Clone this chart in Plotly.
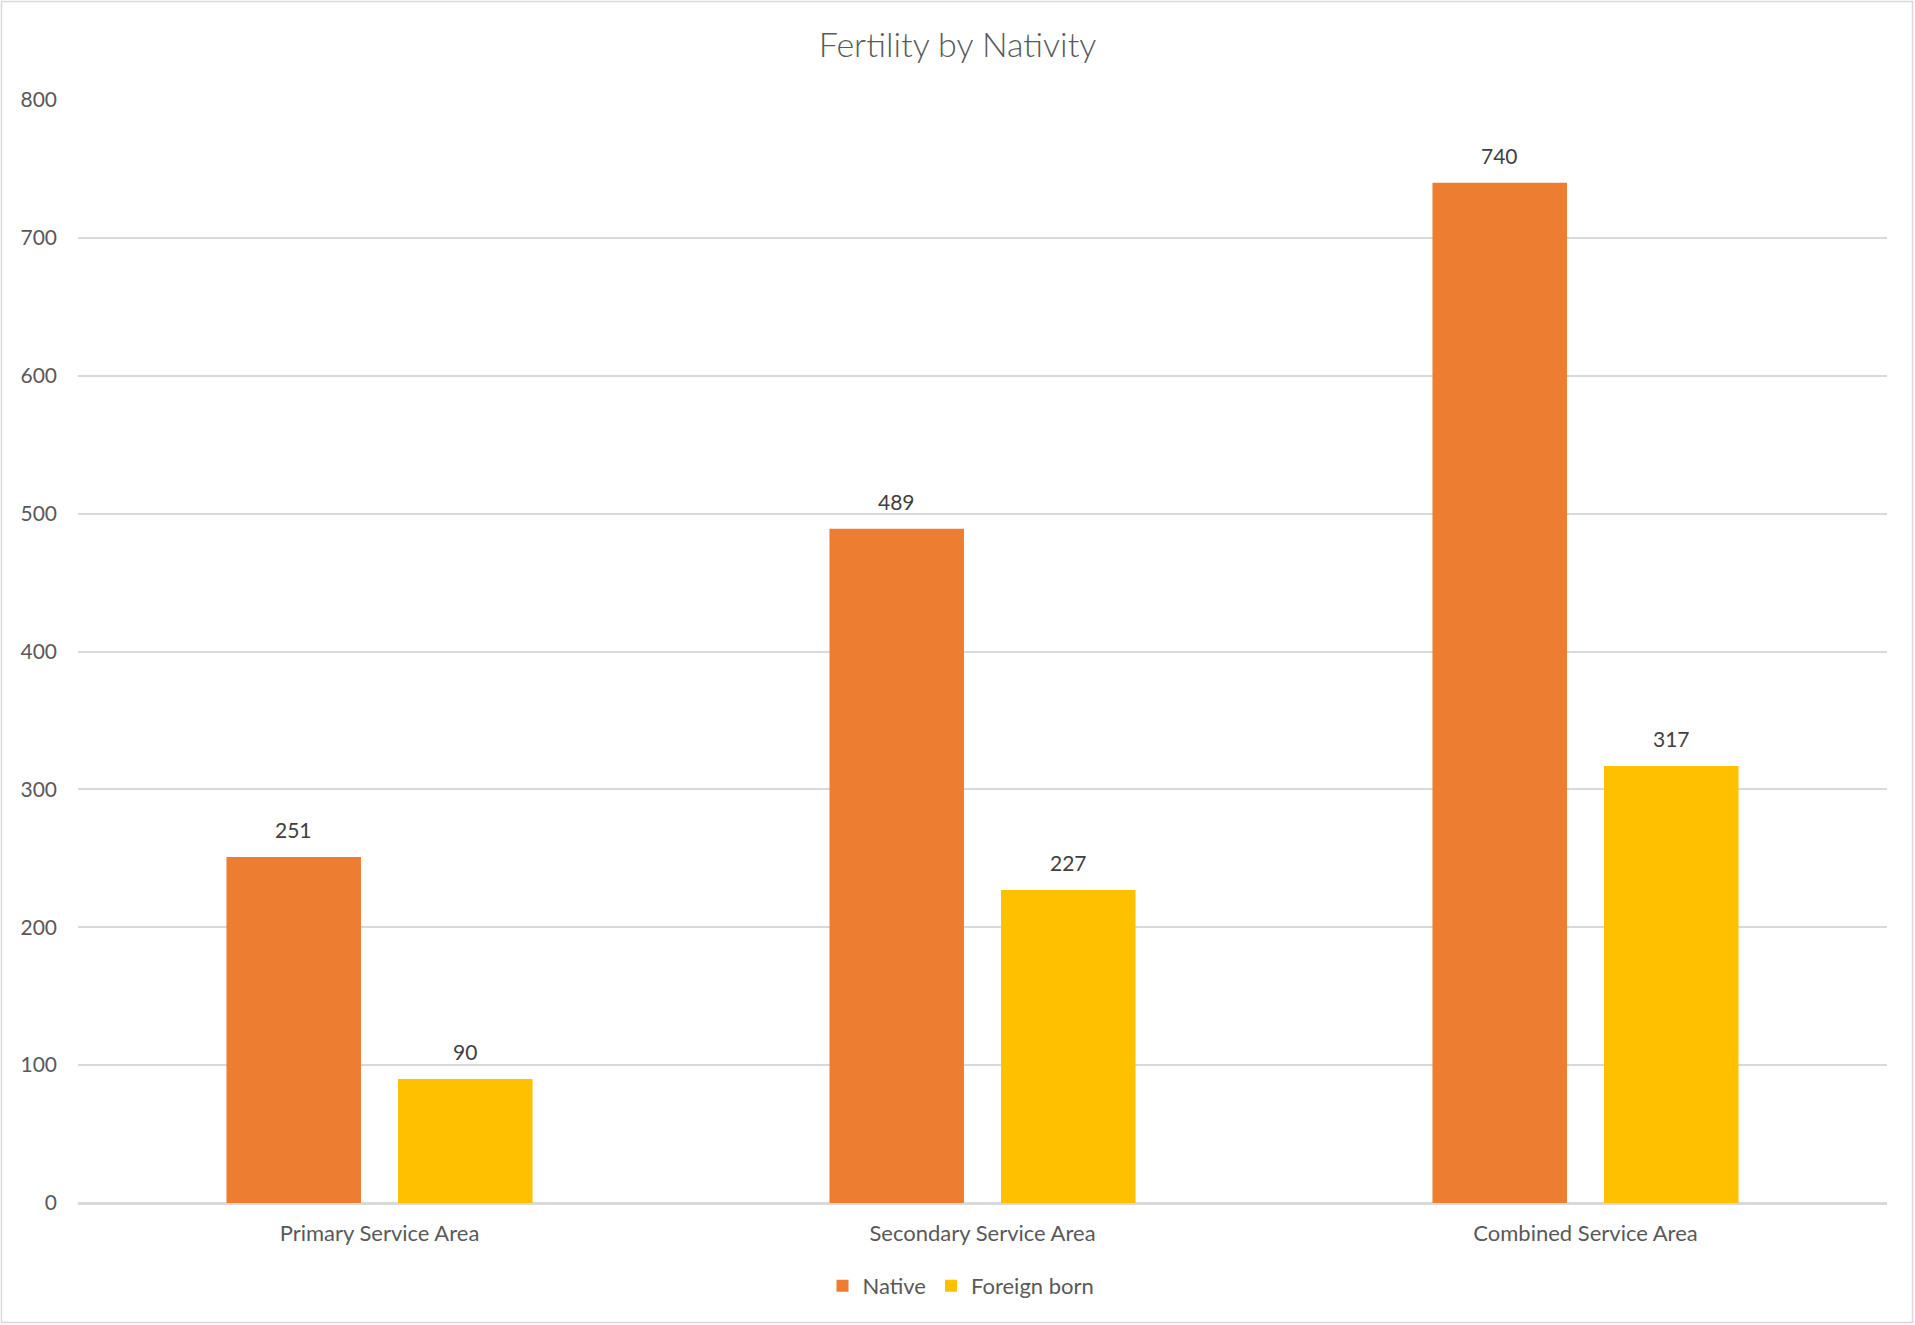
import plotly.graph_objects as go

categories = ["Primary Service Area", "Secondary Service Area", "Combined Service Area"]
native = [251, 489, 740]
foreign_born = [90, 227, 317]
y_ticks = [0, 100, 200, 300, 400, 500, 600, 700, 800]

W, H = 1915, 1325
ML, MR, MT, MB = 78, 28, 100, 122
pw, ph = W - ML - MR, H - MT - MB

FONT = "Lato, 'Open Sans', sans-serif"
GRID = "#d9d9d9"
TXT = "#595959"

fig = go.Figure()
series = [("Native", native, "#ED7D31"), ("Foreign born", foreign_born, "#FFC000")]
offsets = [-0.1426, 0.1418]
for (name, vals, col), off in zip(series, offsets):
    fig.add_trace(go.Bar(
        name=name, x=categories, y=vals, marker=dict(color=col, line=dict(width=0)),
        hoverinfo="x+y+name",
    ))
    for i, v in enumerate(vals):
        fig.add_annotation(x=i + off, y=v, xref="x", yref="y", text=str(v),
                           showarrow=False, yanchor="bottom", yshift=13,
                           font=dict(family=FONT, size=21, color="#404040"))

# chart border
fig.add_shape(type="rect", xref="paper", yref="paper",
              x0=(1.5 - ML) / pw, x1=(W - 2.5 - ML) / pw,
              y0=-(H - 2.5 - MT - ph) / ph, y1=1 + (MT - 1.5) / ph,
              line=dict(color=GRID, width=1.5), fillcolor="rgba(0,0,0,0)", layer="below")

fig.update_layout(
    width=W, height=H,
    margin=dict(l=ML, r=MR, t=MT, b=MB, autoexpand=False),
    paper_bgcolor="white", plot_bgcolor="white",
    barmode="group", bargap=0.431, bargroupgap=0.216,
    title=dict(text="Fertility by Nativity", x=0.5, xref="container", xanchor="center",
               y=1 - 45 / H, yref="container", yanchor="middle",
               font=dict(family=FONT, size=34, color=TXT, weight=300)),
    font=dict(family=FONT, color=TXT, size=21),
    legend=dict(orientation="h", x=(961 - ML) / pw, xanchor="center",
                y=-(1286 - MT - ph) / ph, yanchor="middle",
                font=dict(family=FONT, size=22, color=TXT), itemclick=False,
                tracegroupgap=0),
    showlegend=True,
)
fig.update_xaxes(showgrid=False, showline=True, linecolor=GRID, linewidth=1.5,
                 ticks="", tickfont=dict(family=FONT, size=22, color=TXT),
                 ticklabelstandoff=10, fixedrange=True)
fig.update_yaxes(range=[0, 800], tickvals=y_ticks, showgrid=True, gridcolor=GRID, gridwidth=1.5,
                 zeroline=True, zerolinecolor=GRID, zerolinewidth=1.5, showline=False,
                 ticks="", tickfont=dict(family=FONT, size=21, color=TXT),
                 ticklabelstandoff=20, fixedrange=True)

fig.write_html("out.html", config={"displayModeBar": False},
               post_script="document.body.style.margin='0';")
